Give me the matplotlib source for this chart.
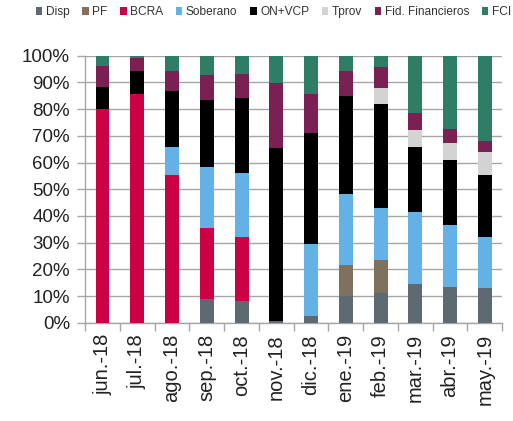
import matplotlib.pyplot as plt
import numpy as np

plt.rcParams['font.family'] = ['Liberation Sans', 'DejaVu Sans']

# --- Data (share of portfolio, %) ---
months = ["jun.-18", "jul.-18", "ago.-18", "sep.-18", "oct.-18", "nov.-18",
          "dic.-18", "ene.-19", "feb.-19", "mar.-19", "abr.-19", "may.-19"]
disp     = [0.0, 0.0, 0.0, 9.1, 8.1, 0.6, 2.7, 10.1, 11.1, 14.6, 13.6, 13.1]
pf       = [0.0, 0.0, 0.0, 0.0, 0.0, 0.0, 0.0, 11.4, 12.4, 0.0, 0.0, 0.0]
bcra     = [80.0, 85.7, 55.4, 26.4, 23.9, 0.0, 0.0, 0.0, 0.0, 0.0, 0.0, 0.0]
soberano = [0.0, 0.0, 10.4, 22.8, 23.9, 0.0, 26.8, 26.9, 19.5, 26.9, 22.9, 18.9]
on_vcp   = [8.2, 8.4, 20.9, 24.9, 28.3, 64.7, 41.6, 36.3, 38.7, 24.3, 24.3, 23.3]
tprov    = [0.0, 0.0, 0.0, 0.0, 0.0, 0.0, 0.0, 0.0, 6.0, 6.4, 6.4, 8.5]
fid      = [7.9, 5.0, 7.4, 9.5, 9.0, 24.4, 14.6, 9.4, 7.9, 6.5, 5.5, 4.4]
fci      = [3.9, 0.9, 5.9, 7.3, 6.8, 10.3, 14.3, 5.9, 4.4, 21.3, 27.3, 31.8]

series = [("Disp", disp, "#5d6a72"),
          ("PF", pf, "#80715f"),
          ("BCRA", bcra, "#cc0044"),
          ("Soberano", soberano, "#63b1e5"),
          ("ON+VCP", on_vcp, "#000000"),
          ("Tprov", tprov, "#d3d3d3"),
          ("Fid. Financieros", fid, "#7b2052"),
          ("FCI", fci, "#2f7d65")]

fig = plt.figure(figsize=(5.13, 4.21), dpi=100)
ax = fig.add_axes([0.166, 0.233, 0.813, 0.635])

x = np.arange(len(months))
bottom = np.zeros(len(months))
for name, vals, col in series:
    vals = np.array(vals)
    ax.bar(x, vals, width=0.4, bottom=bottom, color=col, label=name, zorder=3)
    bottom += vals

# Axes styling
ax.set_ylim(0, 100)
ax.set_xlim(-0.5, len(months) - 0.5)
ax.set_yticks(np.arange(0, 101, 10))
ax.set_yticklabels([f"{v}%" for v in range(0, 101, 10)], fontsize=13.5, color="#222222")
ax.set_xticks(x)
ax.set_xticklabels(months, rotation=90, fontsize=14.5, color="#222222")
ax.set_xticks(np.arange(-0.5, len(months), 1), minor=True)
ax.tick_params(axis="x", which="major", length=0, pad=8)
ax.tick_params(axis="x", which="minor", length=6, color="#a6a6a6", width=1)
ax.tick_params(axis="y", length=6, color="#a6a6a6", width=1, pad=5)

ax.yaxis.grid(True, color="#a6a6a6", linewidth=1, zorder=0)
ax.set_axisbelow(True)
for s in ["top", "right"]:
    ax.spines[s].set_visible(False)
for s in ["left", "bottom"]:
    ax.spines[s].set_color("#a6a6a6")
    ax.spines[s].set_linewidth(1)

fig.legend(loc="center", bbox_to_anchor=(0.533, 0.971), ncol=8, frameon=False,
           fontsize=8.6, handlelength=0.55, handleheight=0.55, handletextpad=0.3,
           columnspacing=1.05, borderaxespad=0, borderpad=0, labelcolor="#333333")

fig.savefig("out.png", dpi=100)
